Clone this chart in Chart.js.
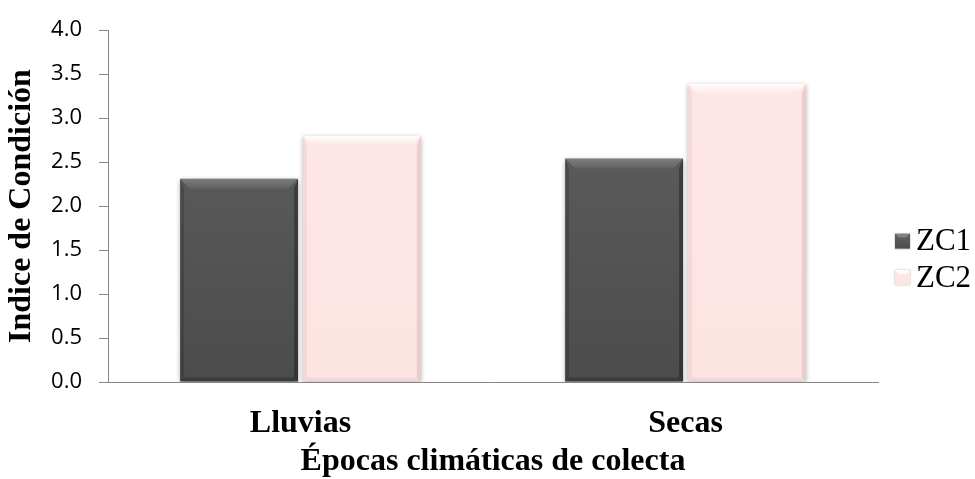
<!DOCTYPE html>
<html>
<head>
<meta charset="utf-8">
<script src="https://cdn.jsdelivr.net/npm/chart.js@4/dist/chart.umd.min.js"></script>
<style>
  html, body { margin: 0; padding: 0; background: #ffffff; }
  #wrap { width: 975px; height: 479px; position: relative; }
</style>
</head>
<body>
<div id="wrap"><canvas id="chart" width="975" height="479"></canvas></div>
<script>
// Condition index by climatic season and collection zone
const categories = ['Lluvias', 'Secas'];
const seriesNames = ['ZC1', 'ZC2'];
const zc1Values = [2.31, 2.54];
const zc2Values = [2.80, 3.39];
const yTicks = [0, 0.5, 1.0, 1.5, 2.0, 2.5, 3.0, 3.5, 4.0];
const yAxisTitle = 'Indice de Condición';
const xAxisTitle = 'Épocas climáticas de colecta';

const SERIF = '"Liberation Serif", "Times New Roman", serif';
const SANS = '"Open Sans", "Liberation Sans", sans-serif';

// Bevelled bar look: body gradient, lit top edge, shaded sides
const looks = [
  { top: '#626262', bottom: '#4c4c4c', light: 'rgba(255,255,255,0.22)', side: 'rgba(0,0,0,0.16)', bottomEdge: 'rgba(0,0,0,0.22)' },
  { top: '#fde7e6', bottom: '#fce4e3', light: 'rgba(255,255,255,0.95)', side: 'rgba(170,110,110,0.10)', bottomEdge: 'rgba(170,110,110,0.10)' }
];

function bodyGradient(ctx, i) {
  const chart = ctx.chart;
  const area = chart.chartArea;
  if (!area) return looks[i].top;
  const g = chart.ctx.createLinearGradient(0, area.top, 0, area.bottom);
  g.addColorStop(0, looks[i].top);
  g.addColorStop(1, looks[i].bottom);
  return g;
}

const shadowPlugin = {
  id: 'barShadow',
  beforeDatasetsDraw(chart) {
    const c = chart.ctx;
    c.save();
    c.shadowColor = 'rgba(0,0,0,0.38)';
    c.shadowBlur = 5;
    c.shadowOffsetX = 0;
    c.shadowOffsetY = 1;
  },
  afterDatasetsDraw(chart) {
    const c = chart.ctx;
    c.restore();
    // bevel overlays on each bar
    chart.data.datasets.forEach((ds, di) => {
      const look = looks[di];
      chart.getDatasetMeta(di).data.forEach(el => {
        const l = el.x - el.width / 2, r = el.x + el.width / 2;
        const t = Math.min(el.y, el.base), b = Math.max(el.y, el.base);
        const k = 10, s = 4;
        c.save();
        // top lit face, fading downward
        const g = c.createLinearGradient(0, t, 0, t + k);
        g.addColorStop(0, look.light);
        g.addColorStop(1, 'rgba(255,255,255,0.05)');
        c.beginPath();
        c.moveTo(l, t); c.lineTo(r, t); c.lineTo(r - k, t + k); c.lineTo(l + k, t + k); c.closePath();
        c.fillStyle = g; c.fill();
        // left face
        c.beginPath();
        c.moveTo(l, t); c.lineTo(l + s, t + k); c.lineTo(l + s, b - s); c.lineTo(l, b); c.closePath();
        c.fillStyle = look.side; c.fill();
        // right face
        c.beginPath();
        c.moveTo(r, t); c.lineTo(r - s, t + k); c.lineTo(r - s, b - s); c.lineTo(r, b); c.closePath();
        c.fillStyle = look.side; c.fill(); c.fill();
        // bottom face
        c.beginPath();
        c.moveTo(l, b); c.lineTo(l + s, b - s); c.lineTo(r - s, b - s); c.lineTo(r, b); c.closePath();
        c.fillStyle = look.bottomEdge; c.fill();
        c.restore();
      });
    });
  }
};

// Legend on the right with small bevelled swatches
const sideLegend = {
  id: 'sideLegend',
  afterDraw(chart) {
    const c = chart.ctx;
    const area = chart.chartArea;
    const mid = (area.top + area.bottom) / 2;
    const x0 = area.right + 17;
    const box = 15;
    c.save();
    seriesNames.forEach((name, i) => {
      const cy = mid + 35 + i * 36.5;
      const top = cy - box / 2;
      const g = c.createLinearGradient(0, top, 0, top + box);
      g.addColorStop(0, looks[i].top);
      g.addColorStop(1, looks[i].bottom);
      c.shadowColor = 'rgba(0,0,0,0.3)';
      c.shadowBlur = 2;
      c.fillStyle = g;
      c.fillRect(x0, top, box, box);
      c.shadowBlur = 0;
      c.shadowColor = 'transparent';
      c.beginPath();
      c.moveTo(x0, top); c.lineTo(x0 + box, top); c.lineTo(x0 + box - 4, top + 4); c.lineTo(x0 + 4, top + 4); c.closePath();
      c.fillStyle = looks[i].light; c.fill();
      c.fillStyle = '#000000';
      c.font = '31px ' + SERIF;
      c.textAlign = 'left';
      c.textBaseline = 'alphabetic';
      c.fillText(name, x0 + box + 6, cy + 9);
    });
    c.restore();
  }
};

new Chart(document.getElementById('chart'), {
  type: 'bar',
  data: {
    labels: categories,
    datasets: [
      { label: seriesNames[0], data: zc1Values, backgroundColor: ctx => bodyGradient(ctx, 0), borderWidth: 0 },
      { label: seriesNames[1], data: zc2Values, backgroundColor: ctx => bodyGradient(ctx, 1), borderWidth: 0 }
    ]
  },
  options: {
    responsive: false,
    animation: false,
    devicePixelRatio: 1,
    layout: { padding: { left: 0, right: 97, top: 25, bottom: 0 } },
    datasets: { bar: { categoryPercentage: 0.638, barPercentage: 0.96 } },
    plugins: {
      legend: { display: false },
      tooltip: { enabled: false }
    },
    scales: {
      x: {
        grid: { display: false },
        border: { display: true, color: '#868686', width: 1 },
        ticks: {
          color: '#000000',
          padding: 15,
          maxRotation: 0,
          font: { family: SERIF, size: 32, weight: 'bold' }
        },
        title: {
          display: true,
          text: xAxisTitle,
          color: '#000000',
          padding: { top: 0, bottom: 0 },
          font: { family: SERIF, size: 32, weight: 'bold', lineHeight: 1.1 }
        },
        afterFit(scale) { scale.height = 97; }
      },
      y: {
        min: 0,
        max: 4,
        grid: { display: true, drawOnChartArea: false, drawTicks: true, tickLength: 9, color: '#868686' },
        border: { display: true, color: '#868686', width: 1 },
        afterBuildTicks(scale) { scale.ticks = yTicks.map(v => ({ value: v })); },
        ticks: {
          color: '#000000',
          padding: 17,
          font: { family: SANS, size: 22 },
          callback: v => Number(v).toFixed(1)
        },
        title: {
          display: true,
          text: yAxisTitle,
          color: '#000000',
          padding: { top: 3, bottom: 0 },
          font: { family: SERIF, size: 32, weight: 'bold' }
        },
        afterFit(scale) { scale.width = 108; }
      }
    }
  },
  plugins: [shadowPlugin, sideLegend]
});
</script>
</body>
</html>
